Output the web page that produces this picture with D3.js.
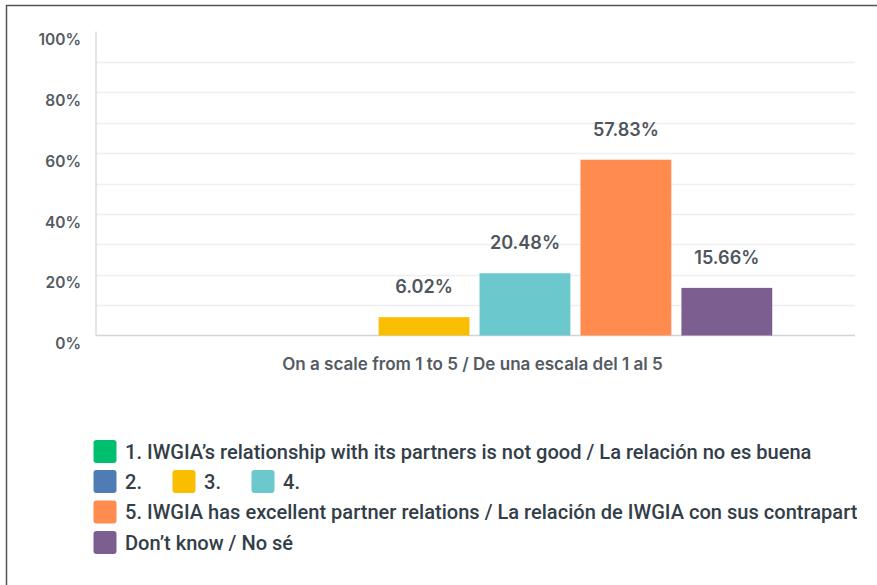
<!DOCTYPE html>
<html>
<head>
<meta charset="utf-8">
<script src="https://cdn.jsdelivr.net/npm/d3@7"></script>
<style>
  body { margin: 0; background: #fff; }
  svg { display: block; }
</style>
</head>
<body>
<svg id="chart" width="877" height="585"></svg>
<script>
let width = 877, height = 585;

// data
let categories = ["1", "2", "3", "4", "5", "dk"];
let values = [0, 0, 6.02, 20.48, 57.83, 15.66];
let colors = ["#00bf6f", "#507cb6", "#f9be00", "#6bc8cd", "#ff8b4f", "#7d5e90"];
let legendLabels = [
    "1. IWGIA\u2019s relationship with its partners is not good / La relación no es buena",
    "2.", "3.", "4.",
    "5. IWGIA has excellent partner relations / La relación de IWGIA con sus contrapartes",
    "Don\u2019t know / No sé"
];
let yTicks = [0, 20, 40, 60, 80, 100];
let xTitle = "On a scale from 1 to 5 / De una escala del 1 al 5";

let svg = d3.select('#chart');

// shrink/grow a font size so a sample text hits a given width
function fitSize(sel, target) {
    let size = +sel.attr('font-size');
    let w = sel.node().getComputedTextLength();
    return size * target / w;
}

// frame (top + left edge of the screenshot box)
svg.append('line').attr('x1', 6).attr('x2', width).attr('y1', 5.5).attr('y2', 5.5)
    .attr('stroke', '#555').attr('stroke-width', 1.5);
svg.append('line').attr('x1', 6.5).attr('x2', 6.5).attr('y1', 5).attr('y2', height)
    .attr('stroke', '#555').attr('stroke-width', 1.5);

let x = d3.scaleBand()
    .domain(categories)
    .range([96, 853])
    .paddingInner(0.1)
    .paddingOuter(0.8);

let y = d3.scaleLinear()
    .domain([0, 100])
    .range([335.5, 31.5]);

// gridlines every 10%
svg.append('g')
    .selectAll('line')
    .data(d3.range(10, 100, 10))
    .enter().append('line')
    .attr('x1', 96).attr('x2', 855)
    .attr('y1', (d) => Math.round(y(d)) + 0.5)
    .attr('y2', (d) => Math.round(y(d)) + 0.5)
    .attr('stroke', '#efefef')
    .attr('stroke-width', 1.5);

// y axis, labels sit a little below their tick
let yAxis = d3.axisLeft(y)
    .tickValues(yTicks)
    .tickFormat((d) => d + '%')
    .tickSize(0)
    .tickPadding(15);

let gy = svg.append('g')
    .attr('transform', 'translate(96,0)')
    .call(yAxis);
gy.select('.domain').remove();
gy.selectAll('text')
    .attr('dy', '0.85em')
    .attr('font-family', 'Inter, sans-serif')
    .attr('font-size', 15.5)
    .attr('font-weight', 600)
    .attr('fill', '#545b62');

svg.append('line')
    .attr('x1', 96).attr('x2', 96)
    .attr('y1', y(100)).attr('y2', y(0))
    .attr('stroke', '#d4d4d4').attr('stroke-width', 1.2);
svg.append('line')
    .attr('x1', 96).attr('x2', 855)
    .attr('y1', y(0)).attr('y2', y(0))
    .attr('stroke', '#d4d4d4').attr('stroke-width', 1.5);

// bars
svg.append('g')
    .selectAll('rect')
    .data(categories)
    .enter().append('rect')
    .attr('x', (d) => x(d))
    .attr('width', x.bandwidth())
    .attr('y', (d, i) => y(values[i]))
    .attr('height', (d, i) => y(0) - y(values[i]))
    .attr('fill', (d, i) => colors[i]);

// value labels above the non-empty bars
let valLabels = svg.append('g')
    .selectAll('text')
    .data(categories.filter((d, i) => values[i] > 0))
    .enter().append('text')
    .attr('x', (d) => x(d) + x.bandwidth() / 2)
    .attr('y', (d) => y(values[categories.indexOf(d)]) - 24)
    .attr('text-anchor', 'middle')
    .attr('font-family', 'Inter, sans-serif')
    .attr('font-size', 16)
    .attr('font-weight', 600)
    .attr('fill', '#4e555c')
    .text((d) => values[categories.indexOf(d)].toFixed(2) + '%');
let valSize = fitSize(valLabels.filter((d) => d === "5"), 66);
valLabels.attr('font-size', valSize);

// x axis title
let title = svg.append('text')
    .attr('x', 472.5)
    .attr('y', 369.5)
    .attr('text-anchor', 'middle')
    .attr('font-family', 'Inter, sans-serif')
    .attr('font-size', 14)
    .attr('font-weight', 600)
    .attr('fill', '#545b62')
    .text(xTitle);
title.attr('font-size', fitSize(title, 381));

// legend
let legendPos = [
    {x: 93.5, y: 451.5}, {x: 93.5, y: 481.5}, {x: 172.5, y: 481.5},
    {x: 251.5, y: 481.5}, {x: 93.5, y: 512}, {x: 93.5, y: 542.5}
];

let clip = svg.append('defs').append('clipPath').attr('id', 'legclip');
clip.append('rect').attr('x', 0).attr('y', 0).attr('width', 857).attr('height', height);

let legend = svg.append('g')
    .attr('clip-path', 'url(#legclip)')
    .selectAll('g')
    .data(legendLabels)
    .enter().append('g')
    .attr('transform', (d, i) => 'translate(' + legendPos[i].x + ',' + legendPos[i].y + ')');

legend.append('rect')
    .attr('x', 0).attr('y', -11.5)
    .attr('width', 23).attr('height', 23)
    .attr('rx', 3)
    .attr('fill', (d, i) => colors[i]);

let legText = legend.append('text')
    .attr('x', 31.5)
    .attr('y', 0)
    .attr('dy', '0.35em')
    .attr('font-family', 'Roboto, sans-serif')
    .attr('font-size', 17.5)
    .attr('font-weight', 500)
    .attr('fill', '#333e48')
    .text((d) => d);
legText.attr('font-size', fitSize(legText.filter((d, i) => i === 0), 687));
</script>
</body>
</html>
